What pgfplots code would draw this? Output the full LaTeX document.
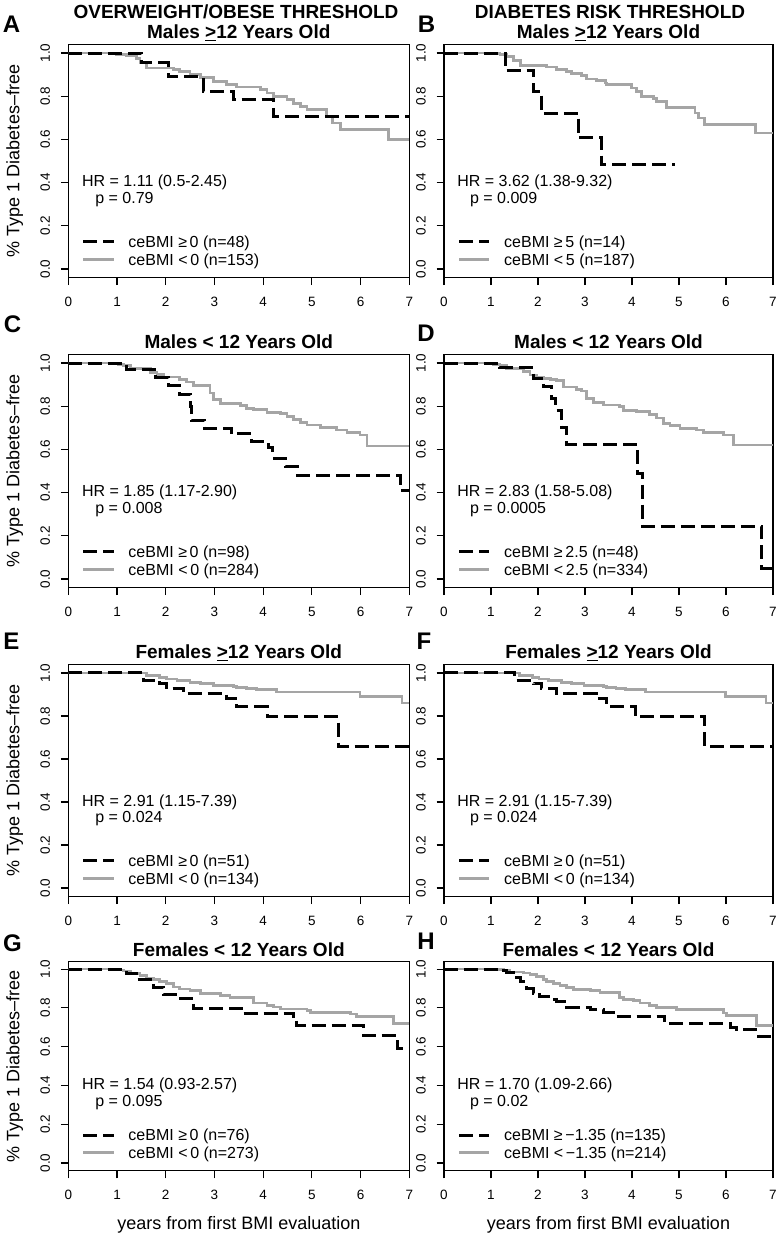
\documentclass[border=0pt]{standalone}
\usepackage{fontspec}
\setmainfont{Liberation Sans}
\usepackage{pgfplots}
\pgfplotsset{compat=1.18}
\definecolor{kmgray}{RGB}{165,165,165}
\newcommand{\fticks}{\fontsize{13.5}{16}\selectfont}
\newcommand{\ftext}{\fontsize{16}{19}\selectfont}
\newcommand{\flab}{\fontsize{18}{21}\selectfont}
\newcommand{\ftitle}{\fontsize{19}{22}\selectfont\bfseries}
\newcommand{\fletter}{\fontsize{24}{28}\selectfont\bfseries}
\pgfplotsset{
  km/.style={
    scale only axis,
    xmin=0, xmax=7, ymin=-0.04, ymax=1.04,
    xtick={0,1,2,3,4,5,6,7}, xticklabels={0,1,2,3,4,5,6,7},
    ytick={0,0.2,0.4,0.6,0.8,1}, yticklabels={0.0,0.2,0.4,0.6,0.8,1.0},
    tick align=outside, tick pos=left, major tick length=7.5pt,
    every tick/.style={black, line width=1.1pt},
    axis line style={line width=1.1pt},
    tick label style={font=\fticks},
    xticklabel style={anchor=north, inner sep=0pt},
    yticklabel style={rotate=90, anchor=south, inner sep=0pt},
    xticklabel shift=12pt, yticklabel shift=10.5pt,
    title style={font=\ftitle, anchor=base, at={(0.5,1)}, inner sep=0pt},
    legend style={at={(axis description cs:0,0)}, anchor=south west, xshift=13.7pt, yshift=9.45pt,
      draw=none, fill=none, inner sep=0pt, outer sep=0pt, row sep=0pt, column sep=0pt, font=\ftext,
      nodes={inner sep=0pt, text height=14.5pt, text depth=3pt}},
    legend cell align=left,
    legend image code/.code={\draw[##1] (0pt,0pt) -- (30pt,0pt); \path[draw=none,fill=none] (0pt,0pt) -- (45pt,0pt);},
  },
  dsh/.style={black, line width=3pt, line cap=butt, dash pattern=on 14pt off 6pt},
  gry/.style={kmgray, line width=2.8pt, line cap=butt},
  leftcol/.style={at={(68.3pt,#1)}, anchor=south west, width=341pt,
    ylabel={\% Type 1 Diabetes--free},
    ylabel style={font=\flab, at={(axis description cs:-0.157,0.5)}, anchor=center}},
  rightcol/.style={at={(444pt,#1)}, anchor=south west, width=329pt},
}
\newcommand{\hrp}[2]{%
  \node[anchor=west, inner sep=0pt, font=\ftext] at (axis cs:0.28,0.4) {#1};
  \node[anchor=west, inner sep=0pt, font=\ftext, yshift=-17pt] at (axis cs:0.55,0.4) {#2};}
\begin{document}
\begin{tikzpicture}
\useasboundingbox (0,0) rectangle (780pt,1240pt);
% headings and letters
\node[font=\ftitle, anchor=base] at (236pt,1221.8pt) {OVERWEIGHT/OBESE THRESHOLD};
\node[font=\ftitle, anchor=base] at (610pt,1221.8pt) {DIABETES RISK THRESHOLD};
\node[font=\fletter, anchor=base] at (11.5pt,1207pt) {A};
\node[font=\fletter, anchor=base] at (426.5pt,1207pt) {B};
\node[font=\fletter, anchor=base] at (12.5pt,907pt) {C};
\node[font=\fletter, anchor=base] at (426pt,898pt) {D};
\node[font=\fletter, anchor=base] at (11.5pt,590pt) {E};
\node[font=\fletter, anchor=base] at (424pt,590pt) {F};
\node[font=\fletter, anchor=base] at (12.5pt,288pt) {G};
\node[font=\fletter, anchor=base] at (426pt,290pt) {H};

% ---------- A ----------
\begin{axis}[km, leftcol=962.4pt, height=233.2pt, title={Males \underline{>}12 Years Old}]
\addlegendimage{dsh}\addlegendentry{ceBMI ≥\,0 (n=48)}
\addlegendimage{gry}\addlegendentry{ceBMI <\,0 (n=153)}
\addplot[gry, const plot, forget plot] coordinates {(0,1) (0.99,0.995) (1.2,0.99) (1.4,0.975) (1.47,0.955) (1.61,0.931) (2.16,0.923) (2.29,0.915) (2.5,0.9) (2.71,0.885) (2.98,0.869) (3.25,0.853) (3.46,0.843) (3.94,0.83) (4.08,0.815) (4.21,0.8) (4.49,0.784) (4.62,0.768) (4.76,0.753) (4.9,0.738) (5.3,0.707) (5.42,0.676) (5.58,0.645) (6.57,0.599) (7,0.599)};
\addplot[dsh, const plot, forget plot] coordinates {(0,1) (1.5,0.954) (2.05,0.889) (2.77,0.822) (3.39,0.784) (4.21,0.707) (7,0.707)};
\hrp{HR = 1.11 (0.5-2.45)}{p = 0.79}
\end{axis}

% ---------- B ----------
\begin{axis}[km, rightcol=962.4pt, height=233.2pt, title={Males \underline{>}12 Years Old}]
\addlegendimage{dsh}\addlegendentry{ceBMI ≥\,5 (n=14)}
\addlegendimage{gry}\addlegendentry{ceBMI <\,5 (n=187)}
\addplot[gry, const plot, forget plot] coordinates {(0,1) (0.98,0.997) (1.19,0.993) (1.33,0.985) (1.48,0.965) (1.62,0.941) (2.18,0.935) (2.40,0.923) (2.61,0.915) (2.72,0.905) (2.93,0.895) (3.04,0.88) (3.25,0.872) (3.43,0.861) (3.46,0.853) (3.99,0.838) (4.10,0.82) (4.21,0.80) (4.45,0.79) (4.52,0.776) (4.74,0.748) (5.34,0.722) (5.41,0.699) (5.55,0.668) (6.62,0.63) (7,0.63)};
\addplot[dsh, const plot, forget plot] coordinates {(0,1) (1.3,0.92) (1.91,0.823) (2.07,0.721) (2.86,0.607) (3.35,0.483) (4.91,0.483)};
\hrp{HR = 3.62 (1.38-9.32)}{p = 0.009}
\end{axis}

% ---------- C ----------
\begin{axis}[km, leftcol=652.4pt, height=233.2pt, title={Males < 12 Years Old}]
\addlegendimage{dsh}\addlegendentry{ceBMI ≥\,0 (n=98)}
\addlegendimage{gry}\addlegendentry{ceBMI <\,0 (n=284)}
\addplot[gry, const plot, forget plot] coordinates {(0,1) (1.03,0.995) (1.13,0.99) (1.27,0.974) (1.68,0.955) (1.82,0.946) (1.95,0.935) (2.29,0.923) (2.43,0.912) (2.57,0.895) (2.91,0.861) (2.98,0.83) (3.12,0.814) (3.53,0.802) (3.66,0.791) (3.8,0.783) (4.08,0.772) (4.35,0.768) (4.49,0.752) (4.62,0.737) (4.76,0.724) (4.9,0.713) (5.17,0.703) (5.51,0.69) (5.72,0.68) (5.99,0.667) (6.13,0.616) (7,0.616)};
\addplot[dsh, const plot, forget plot] coordinates {(0,1) (1.2,0.97) (1.8,0.935) (2.05,0.895) (2.28,0.855) (2.5,0.80) (2.53,0.734) (2.8,0.698) (3.35,0.672) (3.77,0.636) (4.1,0.61) (4.2,0.56) (4.45,0.52) (4.7,0.481) (6.81,0.41) (7,0.41)};
\hrp{HR = 1.85 (1.17-2.90)}{p = 0.008}
\end{axis}

% ---------- D ----------
\begin{axis}[km, rightcol=652.4pt, height=233.2pt, title={Males < 12 Years Old}]
\addlegendimage{dsh}\addlegendentry{ceBMI ≥\,2.5 (n=48)}
\addlegendimage{gry}\addlegendentry{ceBMI <\,2.5 (n=334)}
\addplot[gry, const plot, forget plot] coordinates {(0,1) (1.05,0.995) (1.19,0.99) (1.33,0.975) (1.69,0.96) (1.83,0.945) (1.97,0.935) (2.11,0.93) (2.26,0.923) (2.40,0.92) (2.54,0.889) (2.82,0.879) (2.93,0.87) (3.04,0.837) (3.18,0.817) (3.39,0.806) (3.74,0.797) (3.82,0.78) (4.1,0.775) (4.38,0.76) (4.52,0.745) (4.67,0.721) (4.81,0.709) (5.02,0.698) (5.38,0.69) (5.52,0.678) (5.94,0.667) (6.16,0.62) (7,0.62)};
\addplot[dsh, const plot, forget plot] coordinates {(0,1) (1.19,0.977) (1.9,0.93) (2.11,0.889) (2.29,0.837) (2.38,0.78) (2.5,0.70) (2.6,0.625) (4.11,0.49) (4.22,0.245) (6.76,0.048) (7,0.048)};
\hrp{HR = 2.83 (1.58-5.08)}{p = 0.0005}
\end{axis}

% ---------- E ----------
\begin{axis}[km, leftcol=343.4pt, height=232.2pt, title={Females \underline{>}12 Years Old}]
\addlegendimage{dsh}\addlegendentry{ceBMI ≥\,0 (n=51)}
\addlegendimage{gry}\addlegendentry{ceBMI <\,0 (n=134)}
\addplot[gry, const plot, forget plot] coordinates {(0,1) (1.61,0.989) (1.88,0.978) (2.02,0.972) (2.23,0.966) (2.5,0.957) (2.71,0.95) (2.98,0.943) (3.39,0.938) (3.46,0.932) (3.66,0.927) (3.87,0.923) (4.28,0.912) (5.99,0.889) (6.85,0.86) (7,0.86)};
\addplot[dsh, const plot, forget plot] coordinates {(0,1) (1.54,0.966) (1.88,0.95) (2.02,0.927) (2.36,0.904) (3.25,0.881) (3.46,0.842) (4.08,0.796) (5.55,0.657) (7,0.657)};
\hrp{HR = 2.91 (1.15-7.39)}{p = 0.024}
\end{axis}

% ---------- F ----------
\begin{axis}[km, rightcol=343.4pt, height=232.2pt, title={Females \underline{>}12 Years Old}]
\addlegendimage{dsh}\addlegendentry{ceBMI ≥\,0 (n=51)}
\addlegendimage{gry}\addlegendentry{ceBMI <\,0 (n=134)}
\addplot[gry, const plot, forget plot] coordinates {(0,1) (1.61,0.989) (1.88,0.978) (2.02,0.972) (2.23,0.966) (2.5,0.957) (2.71,0.95) (2.98,0.943) (3.39,0.938) (3.46,0.932) (3.66,0.927) (3.87,0.923) (4.28,0.912) (5.99,0.889) (6.85,0.86) (7,0.86)};
\addplot[dsh, const plot, forget plot] coordinates {(0,1) (1.5,0.966) (1.9,0.95) (2.07,0.927) (2.4,0.904) (3.25,0.881) (3.46,0.842) (4.07,0.796) (5.55,0.657) (7,0.657)};
\hrp{HR = 2.91 (1.15-7.39)}{p = 0.024}
\end{axis}

% ---------- G ----------
\begin{axis}[km, leftcol=69.2pt, height=209.5pt, title={Females < 12 Years Old}, title style={yshift=-1.5pt},
  xlabel={years from first BMI evaluation}, xlabel style={font=\flab, at={(axis description cs:0.5,-0.2587)}, anchor=center}]
\addlegendimage{dsh}\addlegendentry{ceBMI ≥\,0 (n=76)}
\addlegendimage{gry}\addlegendentry{ceBMI <\,0 (n=273)}
\addplot[gry, const plot, forget plot] coordinates {(0,1) (1.03,0.995) (1.13,0.99) (1.27,0.976) (1.47,0.965) (1.61,0.954) (1.75,0.945) (1.88,0.936) (2.02,0.925) (2.16,0.907) (2.29,0.897) (2.5,0.888) (2.71,0.876) (3.12,0.863) (3.32,0.854) (3.8,0.825) (4.08,0.811) (4.21,0.804) (4.35,0.794) (4.9,0.785) (4.97,0.777) (5.79,0.768) (5.92,0.756) (6.67,0.72) (7,0.72)};
\addplot[dsh, const plot, forget plot] coordinates {(0,1) (1.2,0.979) (1.4,0.945) (1.75,0.907) (1.95,0.868) (2.23,0.85) (2.57,0.799) (3.6,0.77) (4.62,0.739) (4.69,0.708) (6.06,0.656) (6.75,0.59) (7,0.59)};
\hrp{HR = 1.54 (0.93-2.57)}{p = 0.095}
\end{axis}

% ---------- H ----------
\begin{axis}[km, rightcol=69.2pt, height=209.5pt, title={Females < 12 Years Old}, title style={yshift=-1.5pt},
  xlabel={years from first BMI evaluation}, xlabel style={font=\flab, at={(axis description cs:0.5,-0.2587)}, anchor=center}]
\addlegendimage{dsh}\addlegendentry{ceBMI ≥\,−1.35 (n=135)}
\addlegendimage{gry}\addlegendentry{ceBMI <\,−1.35 (n=214)}
\addplot[gry, const plot, forget plot] coordinates {(0,1) (1.12,0.997) (1.26,0.993) (1.40,0.985) (1.69,0.98) (1.83,0.971) (1.97,0.963) (2.11,0.948) (2.18,0.936) (2.33,0.924) (2.47,0.914) (2.61,0.904) (2.75,0.893) (3.11,0.889) (3.32,0.88) (3.74,0.854) (3.82,0.845) (4.03,0.838) (4.17,0.825) (4.38,0.813) (4.52,0.802) (4.95,0.79) (5.94,0.773) (6.01,0.759) (6.65,0.708) (7,0.708)};
\addplot[dsh, const plot, forget plot] coordinates {(0,1) (1.19,0.99) (1.33,0.98) (1.48,0.955) (1.62,0.935) (1.76,0.902) (1.9,0.876) (2.04,0.856) (2.26,0.842) (2.40,0.833) (2.61,0.804) (3.11,0.79) (3.39,0.777) (3.6,0.756) (4.7,0.718) (6.09,0.701) (6.23,0.687) (6.69,0.653) (7,0.653)};
\hrp{HR = 1.70 (1.09-2.66)}{p = 0.02}
\end{axis}
\end{tikzpicture}
\end{document}
